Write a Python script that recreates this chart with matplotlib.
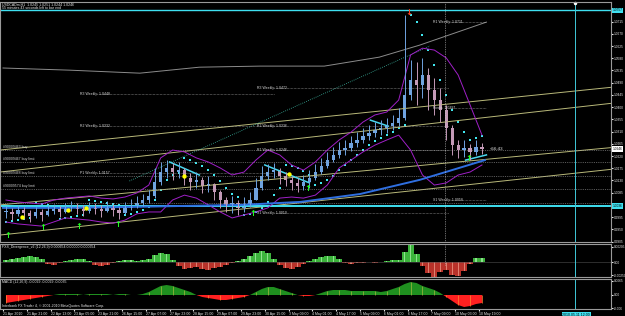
import matplotlib
matplotlib.use("Agg")
import matplotlib.pyplot as plt
import numpy as np

plt.rcParams["font.family"] = ["Liberation Sans", "DejaVu Sans"]

# ---- data (4-hour steps, x in hours from chart start, prices) ----
bar_hours = np.arange(2, 326, 4)
bar_close = [1.0014, 1.0007, 1.0021, 1.0010, 0.9999, 1.0014, 1.0003, 1.0018, 1.0025, 1.0014,
             1.0029, 1.0036, 1.0025, 1.0018, 1.0032, 1.0025, 1.0018, 1.0032, 1.0021, 1.0010,
             1.0029, 1.0040, 1.0047, 1.0058, 1.0073, 1.0124, 1.0161, 1.0176, 1.0161, 1.0168,
             1.0139, 1.0124, 1.0132, 1.0110, 1.0117, 1.0087, 1.0058, 1.0040, 1.0047, 1.0029,
             1.0043, 1.0058, 1.0102, 1.0146, 1.0161, 1.0168, 1.0146, 1.0132, 1.0121, 1.0110,
             1.0124, 1.0139, 1.0161, 1.0183, 1.0205, 1.0224, 1.0242, 1.0249, 1.0268, 1.0279,
             1.0294, 1.0305, 1.0316, 1.0323, 1.0330, 1.0341, 1.0360, 1.0444, 1.0500, 1.0481,
             1.0518, 1.0463, 1.0426, 1.0389, 1.0323, 1.0260, 1.0242, 1.0249, 1.0235, 1.0253,
             1.0246]
bar_high = [1.0036, 1.0029, 1.0040, 1.0032, 1.0021, 1.0032, 1.0025, 1.0040, 1.0043, 1.0036,
            1.0047, 1.0054, 1.0047, 1.0040, 1.0051, 1.0047, 1.0040, 1.0054, 1.0043, 1.0032,
            1.0051, 1.0062, 1.0073, 1.0080, 1.0095, 1.0176, 1.0198, 1.0205, 1.0194, 1.0198,
            1.0176, 1.0157, 1.0161, 1.0143, 1.0146, 1.0121, 1.0095, 1.0069, 1.0073, 1.0058,
            1.0069, 1.0087, 1.0139, 1.0183, 1.0191, 1.0194, 1.0176, 1.0161, 1.0146, 1.0139,
            1.0150, 1.0168, 1.0191, 1.0213, 1.0235, 1.0253, 1.0271, 1.0279, 1.0294, 1.0308,
            1.0323, 1.0334, 1.0345, 1.0352, 1.0360, 1.0371, 1.0397, 1.0739, 1.0573, 1.0566,
            1.0581, 1.0544, 1.0507, 1.0470, 1.0408, 1.0334, 1.0279, 1.0279, 1.0264, 1.0279,
            1.0268]
bar_low = [0.9992, 0.9984, 0.9999, 0.9988, 0.9977, 0.9992, 0.9981, 0.9999, 1.0007, 0.9995,
           1.0010, 1.0018, 1.0007, 0.9999, 1.0010, 1.0007, 0.9995, 1.0014, 0.9999, 0.9988,
           1.0007, 1.0021, 1.0029, 1.0036, 1.0047, 1.0065, 1.0113, 1.0139, 1.0132, 1.0139,
           1.0113, 1.0095, 1.0102, 1.0084, 1.0087, 1.0058, 1.0029, 1.0014, 1.0010, 1.0003,
           1.0014, 1.0032, 1.0058, 1.0095, 1.0132, 1.0139, 1.0117, 1.0110, 1.0095, 1.0087,
           1.0095, 1.0102, 1.0132, 1.0154, 1.0176, 1.0198, 1.0213, 1.0224, 1.0238, 1.0253,
           1.0268, 1.0279, 1.0290, 1.0297, 1.0305, 1.0316, 1.0330, 1.0352, 1.0426, 1.0408,
           1.0433, 1.0389, 1.0371, 1.0345, 1.0279, 1.0224, 1.0213, 1.0216, 1.0205, 1.0224,
           1.0227]

sar = [0.9977, 0.9981, 0.9984, 0.9988, 0.9992, 1.0047, 1.0043, 1.0040, 1.0036, 0.9988,
       0.9992, 0.9995, 0.9999, 1.0003, 1.0058, 1.0054, 1.0051, 1.0047, 1.0043, 1.0040,
       1.0003, 1.0007, 1.0014, 1.0021, 1.0032, 1.0058, 1.0095, 1.0132, 1.0150, 1.0157,
       1.0213, 1.0205, 1.0194, 1.0183, 1.0168, 1.0150, 1.0128, 1.0102, 1.0080, 1.0069,
       1.0003, 1.0007, 1.0014, 1.0029, 1.0051, 1.0076, 1.0102, 1.0187, 1.0183, 1.0176,
       1.0165, 1.0150, 1.0113, 1.0121, 1.0132, 1.0146, 1.0168, 1.0187, 1.0205, 1.0224,
       1.0242, 1.0260, 1.0275, 1.0286, 1.0297, 1.0308, 1.0323, 1.0334, 1.0739, 1.0713,
       1.0665, 1.0610, 1.0555, 1.0500, 1.0444, 1.0389, 1.0345, 1.0308, 1.0279, 1.0286,
       1.0294]

bb_hours = np.arange(2, 326, 8)
bb_upper = [1.0058, 1.0051, 1.0047, 1.0043, 1.0058, 1.0065, 1.0069, 1.0073, 1.0065, 1.0062,
            1.0069, 1.0084, 1.0113, 1.0213, 1.0242, 1.0235, 1.0213, 1.0198, 1.0176, 1.0150,
            1.0161, 1.0205, 1.0242, 1.0224, 1.0187, 1.0168, 1.0198, 1.0242, 1.0279, 1.0308,
            1.0345, 1.0371, 1.0382, 1.0426, 1.0592, 1.0617, 1.0610, 1.0581, 1.0518, 1.0408,
            1.0297]
bb_lower = [0.9977, 0.9970, 0.9966, 0.9962, 0.9977, 0.9992, 0.9988, 0.9984, 0.9977, 0.9973,
            0.9984, 1.0007, 1.0014, 1.0014, 1.0058, 1.0076, 1.0065, 1.0040, 1.0014, 0.9992,
            1.0003, 1.0014, 1.0029, 1.0065, 1.0069, 1.0065, 1.0076, 1.0113, 1.0176, 1.0205,
            1.0235, 1.0260, 1.0279, 1.0297, 1.0242, 1.0150, 1.0113, 1.0121, 1.0150, 1.0161,
            1.0187]

ma_hours = [0, 40, 80, 120, 160, 200, 240, 280, 300, 324]
ma_blue = [1.0029, 1.0029, 1.0032, 1.0036, 1.0040, 1.0051, 1.0080, 1.0132, 1.0165, 1.0205]

slow_hours = [0, 45, 92, 132, 173, 216, 253, 280, 325]
slow_ma = [1.0544, 1.0536, 1.0525, 1.0547, 1.0551, 1.0551, 1.0584, 1.0628, 1.0713]

# short trailing-stop segments: (hour0, price0, hour1, price1)
trail_segments = [(112, 1.0198, 132, 1.0150),
                  (176, 1.0187, 206, 1.0121),
                  (247, 1.0352, 259, 1.0330),
                  (311, 1.0205, 325, 1.0224)]

# trend / channel lines
channel_lines = [(-2, 1.0242, 409, 1.0473),
                 (-2, 1.0161, 409, 1.0414),
                 (-2, 1.0040, 409, 1.0251),
                 (-2, 0.9929, 409, 1.0171)]
diag_line = (85, 1.0128, 287, 1.0625)

level_upper = 1.0757
level_lower = 1.0036

orders = [("#90009463 buy", 1.0242), ("#90009467 buy limit", 1.0198),
          ("#90009468 buy limit", 1.0146), ("#90009574 buy limit", 1.0099)]

# weekly pivots: (label, price, hour_start, hour_end)
pivots = [("R3 Weekly: 1.0448", 1.0448, 63, 182),
          ("R2 Weekly: 1.0332", 1.0330, 63, 182),
          ("P1 Weekly: 1.0157", 1.0157, 63, 182),
          ("R3 Weekly: 1.0472", 1.0472, 182, 300),
          ("R2 Weekly: 1.0336", 1.0330, 182, 300),
          ("R1 Weekly: 1.0246", 1.0242, 182, 300),
          ("S1 Weekly: 1.0010", 1.0010, 182, 300),
          ("R1 Weekly: 1.0711", 1.0713, 300, 325),
          ("Pivots: 1.0397", 1.0397, 300, 325),
          ("S1 Weekly: 1.0058", 1.0058, 300, 325)]

fractal_hours = [13, 44, 56, 122, 192]
fractal_price = [0.9995, 1.0021, 1.0029, 1.0146, 1.0154]
buy_hours = [3, 27, 51, 77, 168, 205, 313]
buy_price = [0.9926, 0.9955, 0.9962, 0.9966, 1.0010, 1.0102, 1.0209]
sell_hours = [273]
sell_price = [1.0750]

div_hist = [2, 3, 4, 5, 6, 5, 3, -2, -3, -1, 1, 2, 3, 3, 1, -3, -4, -3, -1, 1,
            2, 2, 1, 2, 3, 7, 9, 8, 2, -4, -7, -6, -5, -7, -8, -6, -5, -3, -1, 1,
            3, 6, 9, 11, 9, 3, -3, -6, -7, -5, -2, 1, 3, 5, 6, 6, 3, -1, -2, -1,
            -1, 0, -1, 0, 1, 2, 2, 10, 17, 8, -4, -11, -15, -10, -8, -13, -14, -9, -2, 4,
            4]  # x 1.3e-4
macd_hist = [-8, -7, -6, -5, -4, -3, -2, -1, 0, 1, 1, 1, 1, 0, 1, 1, 1, 1, 0, 1,
             1, 0, 0, 1, 3, 6, 9, 10, 9, 7, 5, 3, 0, -2, -3, -4, -5, -5, -4, -3,
             -2, 0, 3, 6, 8, 8, 6, 4, 2, 0, -1, -1, 0, 2, 4, 5, 5, 5, 4, 4,
             4, 4, 4, 3, 4, 6, 8, 11, 13, 12, 9, 7, 5, 2, -2, -6, -10, -12, -11, -9,
             -8]  # x 4e-4

time_labels = ["21 Apr 2010", "21 Apr 21:00", "22 Apr 13:00", "23 Apr 05:00", "23 Apr 21:00",
               "26 Apr 15:00", "27 Apr 07:00", "27 Apr 23:00", "28 Apr 15:00", "29 Apr 07:00",
               "29 Apr 23:00", "30 Apr 15:00", "3 May 09:00", "4 May 01:00", "4 May 17:00",
               "5 May 09:00", "6 May 01:00", "6 May 17:00", "7 May 09:00", "10 May 03:00",
               "10 May 19:00"]
price_ticks = [0.9905, 0.9950, 0.9995, 1.0085, 1.0130, 1.0175, 1.0220, 1.0265, 1.0310,
               1.0355, 1.0400, 1.0445, 1.0490, 1.0535, 1.0580, 1.0625, 1.0670, 1.0715]

# ---- layout helpers (pixel based) ----
W, H = 625, 316
RIGHT = 611
fig = plt.figure(figsize=(W / 100, H / 100), dpi=100, facecolor="black")


def px_axes(x0, y0, x1, y1):
    a = fig.add_axes([x0 / W, 1 - y1 / H, (x1 - x0) / W, (y1 - y0) / H])
    a.set_facecolor("black")
    for s in a.spines.values():
        s.set_color("#9a9a9a")
        s.set_linewidth(0.8)
    return a


XL = (-3 / 1.4875, (RIGHT - 3) / 1.4875)
FS = 2.5
WHITE = "#e8e8e8"

ax = px_axes(0, 2, RIGHT, 242)
ax1 = px_axes(0, 244, RIGHT, 277)
ax2 = px_axes(0, 279, RIGHT, 309)
for a in (ax, ax1, ax2):
    a.set_xlim(*XL)
    a.tick_params(axis="y", left=False, right=True, labelleft=False, labelright=True,
                  labelsize=2.3, colors=WHITE, length=1.5, pad=0.6)
    a.tick_params(axis="x", bottom=False, labelbottom=False)
ax.set_ylim(0.99034, 1.0787)
ax.set_yticks(price_ticks)
ax.set_yticklabels([f"{v:.4f}" for v in price_ticks])

# ---- main price panel ----
for (h0, p0, h1, p1) in channel_lines:
    ax.plot([h0, h1], [p0, p1], color="#b9b97a", lw=0.7)
ax.plot([diag_line[0], diag_line[2]], [diag_line[1], diag_line[3]],
        color="#3cb4a0", lw=0.6, ls=(0, (1, 1.5)))
ax.plot(slow_hours, slow_ma, color="#8c8c8c", lw=0.7)

for txt, p in orders:
    ax.axhline(p, color="#a0a0a0", lw=0.4, ls=(0, (2, 2)))
    ax.text(0, p + 0.0004, txt, color="#d0d0d0", fontsize=FS, va="bottom", ha="left")
ax.axhline(1.0047, color="#a0a0a0", lw=0.4, ls=(0, (2, 2)))

for txt, p, h0, h1 in pivots:
    ax.plot([h0, h1], [p, p], color="#d0d0d0", lw=0.4, ls=(0, (1, 1.5)))
    ax.text(h0 - 11, p, txt, color="#d8d8d8", fontsize=FS, va="center", ha="left")

ax.axhline(level_upper, color="#3fe0f0", lw=1.0)
ax.axhline(level_lower, color="#3fe0f0", lw=1.4)

ax.plot(bb_hours, bb_upper, color="#a020c8", lw=0.7)
ax.plot(bb_hours, bb_lower, color="#a020c8", lw=0.7)
ax.plot(ma_hours, ma_blue, color="#2f6fe0", lw=1.4)
for (h0, p0, h1, p1) in trail_segments:
    ax.plot([h0, h1], [p0, p1], color="#48d8f0", lw=1.1)

bar_open = [bar_close[0]] + bar_close[:-1]
up = np.array(bar_close) >= np.array(bar_open)
cols = np.where(up, "#6fa3e0", "#c49ab8")
ax.vlines(bar_hours, bar_low, bar_high, colors=cols, lw=0.7)
body_lo = np.minimum(bar_open, bar_close)
body_h = np.maximum(np.abs(np.array(bar_close) - np.array(bar_open)), 0.0003)
ax.bar(bar_hours, body_h, bottom=body_lo, width=2.2, color=cols, lw=0)

ax.scatter(bar_hours, sar, s=1.2, color="#40e8f0", marker="s", lw=0)
ax.scatter(fractal_hours, fractal_price, s=10, color="#ffff00", lw=0, zorder=5)
for h, p in zip(buy_hours, buy_price):
    ax.text(h, p, "\u2191", color="#20ff20", fontsize=6, fontweight="bold",
            ha="center", va="center", zorder=6, family="DejaVu Sans")
for h, p in zip(sell_hours, sell_price):
    ax.text(h, p, "\u2193", color="#ff4020", fontsize=6, fontweight="bold",
            ha="center", va="center", zorder=6, family="DejaVu Sans")

ax.text(327, 1.0246, "<56:43", color=WHITE, fontsize=3.2, va="center", ha="left")
ax.axvline(297, color="#d0d0d0", lw=0.5, ls=(0, (1, 1.5)))
ax1.axvline(297, ymin=12 / 33, color="#d0d0d0", lw=0.5, ls=(0, (1, 1.5)))

ax.text(0.004, 0.998, "USDCADm,H1  1.0245 1.0251 1.0244 1.0246", transform=ax.transAxes,
        color=WHITE, fontsize=FS, va="top", ha="left")
ax.text(0.004, 0.982, "55 minutes 43 seconds left to bar end", transform=ax.transAxes,
        color=WHITE, fontsize=FS, va="top", ha="left")

box = dict(boxstyle="square,pad=0.2", fc="#3fe0f0", ec="none")
ytr = ax.get_yaxis_transform()
ax.text(1.003, level_upper, f"{level_upper:.4f}", transform=ytr,
        fontsize=2.3, color="black", va="center", ha="left", bbox=box, clip_on=False)
ax.text(1.003, level_lower, f"{level_lower:.4f}", transform=ytr,
        fontsize=2.3, color="black", va="center", ha="left", bbox=box, clip_on=False)
ax.text(1.003, 1.0246, "1.0246", transform=ytr, fontsize=2.3,
        color="black", va="center", ha="left", clip_on=False,
        bbox=dict(boxstyle="square,pad=0.2", fc="white", ec="none"))

# ---- FXS divergence panel ----
d = np.array(div_hist) * 1.3e-4
ax1.set_ylim(-0.00195, 0.00234)
ax1.bar(bar_hours, d, width=4, color=np.where(d >= 0, "#3cb43c", "#b8322a"), lw=0)
ax1.bar(bar_hours, d, width=0.8, color=np.where(d >= 0, "#8ee08e", "#e08070"), lw=0)
ax1.axhline(0, color="#505050", lw=0.4)
ax1.set_yticks([0.00200, 0.0, -0.00175])
ax1.set_yticklabels(["0.00205", "0.00", "-0.00250"])
ax1.text(0.004, 0.97, "FXS_Divergence_v2 (12,26,9) 0.000654 0.00000 0.000654",
         transform=ax1.transAxes, color=WHITE, fontsize=FS, va="top", ha="left")

# ---- MACD panel ----
m = np.array(macd_hist) * 4e-4
ax2.set_ylim(-0.0056, 0.0064)
ax2.fill_between(bar_hours, 0, m, where=m >= 0, color="#1f8f1f", lw=0, interpolate=True)
ax2.fill_between(bar_hours, 0, m, where=m < 0, color="#ff2020", lw=0, interpolate=True)
ax2.vlines(bar_hours[::2], 0, m[::2], colors=np.where(m[::2] >= 0, "#a8b840", "#ff8a30"), lw=0.5)
ax2.set_yticks([0.0058, 0.0, -0.0052])
ax2.set_yticklabels(["0.0065", "0.00", "-0.006"])
ax2.text(0.004, 0.97, "MACD (12,26,9) -0.0029 -0.0029 -0.0035", transform=ax2.transAxes,
         color=WHITE, fontsize=FS, va="top", ha="left")
ax2.text(0.004, 0.04, "Interbank FX Trader 4, \u00a9 2001-2010 MetaQuotes Software Corp.",
         transform=ax2.transAxes, color=WHITE, fontsize=FS, va="bottom", ha="left")
ax2.tick_params(axis="x", bottom=True, labelbottom=True, labelsize=2.5, colors=WHITE,
                length=1.5, pad=0.6)
ax2.set_xticks(np.arange(len(time_labels)) * 16)
ax2.set_xticklabels(time_labels, ha="left")
ax2.text(376, -0.0070, "2010.05.11 12:00", fontsize=2.5, color="black", va="top", ha="left",
         clip_on=False, bbox=dict(boxstyle="square,pad=0.2", fc="#3fe0f0", ec="none"))

# vertical cursor line through all panels
for a in (ax, ax1, ax2):
    a.axvline(384.5, color="#3fc8d8", lw=0.7)
ax.plot([384.5], [1.0785], marker="o", ms=1.5, color="white", clip_on=False)

fig.savefig("out.png", dpi=100, facecolor="black")
